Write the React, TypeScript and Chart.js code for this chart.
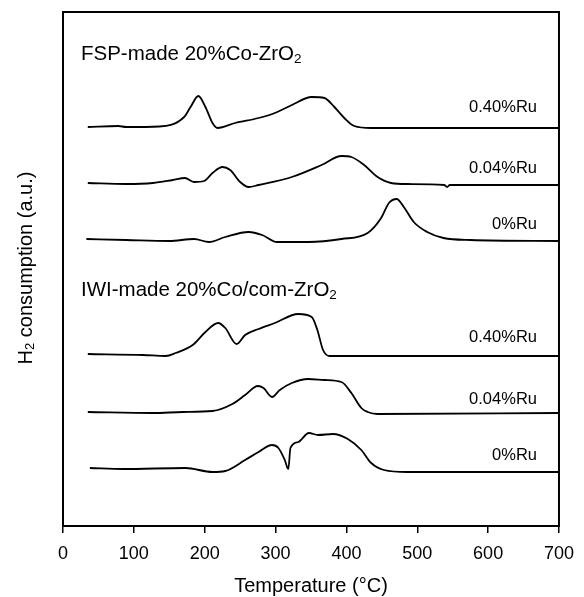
import { useEffect, useRef } from 'react';
import { Chart, registerables } from 'chart.js';
Chart.register(...registerables);

const FONT = "'Liberation Sans', Arial, Helvetica, sans-serif";

// Temperature (°C) and H2 consumption (a.u., offset stacked) for each profile
const fsp040T = [35, 78, 89, 136, 171, 180, 191, 201, 211, 218, 243, 276, 299, 323, 351, 369, 383, 397, 411, 435, 700];
const fsp040V = [399, 400, 399, 399.5, 409, 419, 430, 419, 403, 398, 403, 408, 413, 421, 429, 428, 419, 408, 400, 398, 398];

const fsp004T = [35, 89, 127, 155, 172, 185, 199, 211, 225, 236, 250, 262, 276, 323, 365, 393, 407, 425, 444, 463, 486, 538, 542, 546, 700];
const fsp004V = [343, 342, 343, 346, 348, 344, 345, 353, 359, 356, 344, 339, 341, 349, 361, 370, 369, 361, 349, 343, 342, 341, 339, 341, 341];

const fsp0T = [33, 89, 150, 185, 206, 229, 262, 281, 302, 346, 393, 430, 449, 460, 471, 481, 495, 514, 537, 575, 700];
const fsp0V = [287, 286, 285, 287, 284, 289, 294, 291, 284, 284, 287, 293, 308, 323, 327, 319, 304, 294, 288, 286, 285];

const iwi040T = [35, 113, 145, 159, 183, 201, 219, 229, 245, 257, 276, 299, 332, 351, 359, 367, 376, 700];
const iwi040V = [172, 171, 170, 173, 181, 194, 203, 198, 182, 191, 197, 203, 212, 209, 196, 176, 170, 170];

const iwi004T = [35, 127, 169, 211, 239, 257, 275, 283, 295, 306, 323, 346, 369, 393, 407, 421, 430, 444, 700];
const iwi004V = [114, 113, 114, 115, 122, 131, 140, 138, 129, 136, 143, 147, 146, 144, 133, 118, 114, 112, 113];

const iwi0T = [38, 85, 173, 211, 229, 257, 276, 295, 304, 313, 318, 321, 332, 347, 360, 381, 402, 421, 435, 453, 486, 700];
const iwi0V = [58, 57, 58, 54, 55, 66, 74, 81, 78, 66, 57, 78, 84, 93, 91, 92, 87, 76, 63, 56, 54, 54];

const seriesT = [fsp040T, fsp004T, fsp0T, iwi040T, iwi004T, iwi0T];
const seriesV = [fsp040V, fsp004V, fsp0V, iwi040V, iwi004V, iwi0V];
const seriesLabels = ['0.40%Ru', '0.04%Ru', '0%Ru', '0.40%Ru', '0.04%Ru', '0%Ru'];
// label anchor value (data units) for each series label
const labelValues = [414, 353, 297, 184, 122, 66];

const groupMain = ['FSP-made 20%Co-ZrO', 'IWI-made 20%Co/com-ZrO'];
const groupSub = ['2', '2'];
const groupValues = [466.5, 230];

const xTitle = 'Temperature (°C)';
const yTitleMain = 'H';
const yTitleSub = '2';
const yTitleRest = ' consumption (a.u.)';

export default function App() {
  const ref = useRef<HTMLCanvasElement>(null);
  useEffect(() => {
    document.body.style.margin = '0';
    const canvas = ref.current!;
    const overlay = {
      id: 'overlay',
      afterDraw(chart: any) {
        const ctx = chart.ctx as CanvasRenderingContext2D;
        const a = chart.chartArea;
        const ys = chart.scales.y;
        ctx.save();
        ctx.strokeStyle = '#000';
        ctx.lineWidth = 2;
        ctx.strokeRect(a.left, a.top, a.right - a.left, a.bottom - a.top);
        ctx.fillStyle = '#000';
        ctx.textBaseline = 'alphabetic';
        // group titles
        groupMain.forEach((t, i) => {
          const y = ys.getPixelForValue(groupValues[i]);
          ctx.font = `20.5px ${FONT}`;
          ctx.textAlign = 'left';
          ctx.fillText(t, a.left + 18, y);
          const w = ctx.measureText(t).width;
          ctx.font = `13.5px ${FONT}`;
          ctx.fillText(groupSub[i], a.left + 18 + w, y + 3);
        });
        // series labels
        ctx.font = `16.5px ${FONT}`;
        ctx.textAlign = 'right';
        seriesLabels.forEach((t, i) => {
          ctx.fillText(t, a.right - 22, ys.getPixelForValue(labelValues[i]));
        });
        // x title
        ctx.font = `20px ${FONT}`;
        ctx.textAlign = 'center';
        ctx.fillText(xTitle, (a.left + a.right) / 2, 592);
        // y title
        ctx.translate(32, 268);
        ctx.rotate(-Math.PI / 2);
        ctx.textAlign = 'left';
        ctx.font = `20px ${FONT}`;
        const w1 = ctx.measureText(yTitleMain).width;
        const w3 = ctx.measureText(yTitleRest).width;
        ctx.font = `13px ${FONT}`;
        const w2 = ctx.measureText(yTitleSub).width;
        const start = -(w1 + w2 + w3) / 2;
        ctx.font = `20px ${FONT}`;
        ctx.fillText(yTitleMain, start, 0);
        ctx.font = `13px ${FONT}`;
        ctx.fillText(yTitleSub, start + w1, 2);
        ctx.font = `20px ${FONT}`;
        ctx.fillText(yTitleRest, start + w1 + w2, 0);
        ctx.restore();
      },
    };
    const chart = new Chart(canvas, {
      type: 'line',
      data: {
        datasets: seriesT.map((ts, i) => ({
          label: seriesLabels[i],
          data: ts.map((t, j) => ({ x: t, y: seriesV[i][j] })),
          borderColor: '#000',
          borderWidth: 1.8,
          pointRadius: 0,
          fill: false,
          cubicInterpolationMode: 'monotone' as const,
        })),
      },
      options: {
        animation: false,
        responsive: false,
        devicePixelRatio: 1,
        layout: { padding: { left: 63, right: 21, top: 12, bottom: 0 } },
        plugins: { legend: { display: false }, tooltip: { enabled: false } },
        scales: {
          x: {
            type: 'linear',
            min: 0,
            max: 700,
            ticks: { stepSize: 100, color: '#000', font: { size: 18, family: FONT }, padding: 10 },
            grid: { drawOnChartArea: false, drawTicks: true, tickLength: 7, color: '#000', lineWidth: 1.5 },
            border: { display: false },
            afterFit: (s: any) => { s.height = 71; },
          },
          y: { display: false, min: 0, max: 514 },
        },
      },
      plugins: [overlay],
    });
    return () => chart.destroy();
  }, []);
  return (
    <div style={{ width: 584, height: 597 }}>
      <canvas ref={ref} width={584} height={597} style={{ display: 'block' }} />
    </div>
  );
}
